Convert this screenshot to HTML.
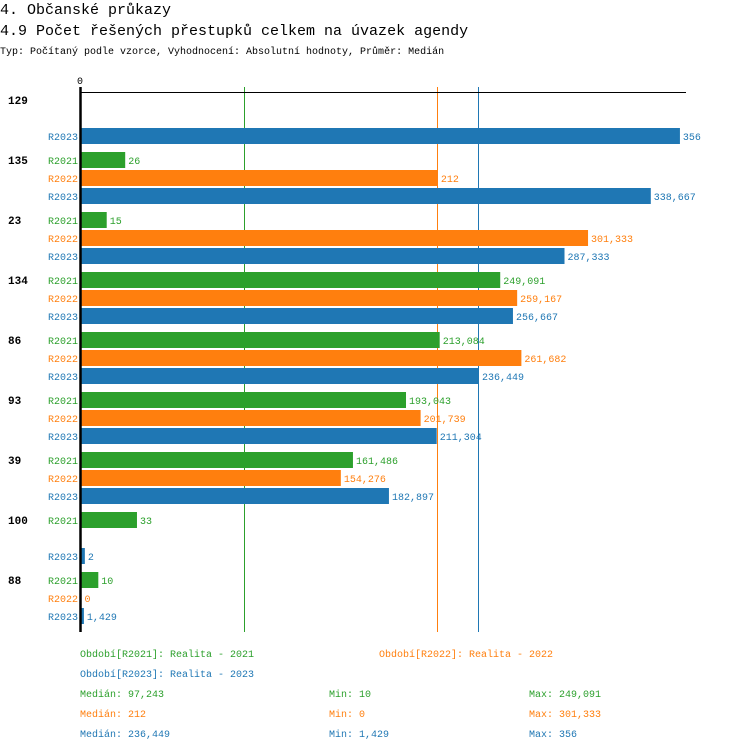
<!DOCTYPE html>
<html><head><meta charset="utf-8">
<style>
body{margin:0;background:#fff;width:750px;height:752px;overflow:hidden;font-family:"Liberation Mono",monospace;}
svg{position:absolute;left:0;top:0}
</style></head><body>
<svg id="c" width="750" height="752" xmlns="http://www.w3.org/2000/svg" font-family="Liberation Mono, monospace">
<text x="0" y="14" font-size="15" fill="#000">4. Občanské průkazy</text>
<text x="0" y="35" font-size="15" fill="#000">4.9 Počet řešených přestupků celkem na úvazek agendy</text>
<text x="0" y="54" font-size="10" fill="#000">Typ: Počítaný podle vzorce, Vyhodnocení: Absolutní hodnoty, Průměr: Medián</text>
<g id="plot"></g>
<g id="legend" font-size="10">
<text x="80" y="657" fill="#2ca02c">Období[R2021]: Realita - 2021</text>
<text x="379" y="657" fill="#ff7f0e">Období[R2022]: Realita - 2022</text>
<text x="80" y="677" fill="#1f77b4">Období[R2023]: Realita - 2023</text>
<text x="80" y="697" fill="#2ca02c">Medián: 97,243</text>
<text x="329" y="697" fill="#2ca02c">Min: 10</text>
<text x="529" y="697" fill="#2ca02c">Max: 249,091</text>
<text x="80" y="717" fill="#ff7f0e">Medián: 212</text>
<text x="329" y="717" fill="#ff7f0e">Min: 0</text>
<text x="529" y="717" fill="#ff7f0e">Max: 301,333</text>
<text x="80" y="737" fill="#1f77b4">Medián: 236,449</text>
<text x="329" y="737" fill="#1f77b4">Min: 1,429</text>
<text x="529" y="737" fill="#1f77b4">Max: 356</text>
</g>
</svg>
<script>
const categories = ["129","135","23","134","86","93","39","100","88"];
const seriesNames = ["R2021","R2022","R2023"];
const r2021 = [null,26,15,249.091,213.084,193.043,161.486,33,10];
const r2022 = [null,212,301.333,259.167,261.682,201.739,154.276,null,0];
const r2023 = [356,338.667,287.333,256.667,236.449,211.304,182.897,2,1.429];
const medians = [97.243,212,236.449];
const colors = ["#2ca02c","#ff7f0e","#1f77b4"];
const series=[r2021,r2022,r2023];
const NS="http://www.w3.org/2000/svg";
const g=document.getElementById('plot');
const x0=81.5, pxPerUnit=1.681;
function xs(v){return x0+v*pxPerUnit;}
function rowY(ci,si){return 100+ci*60+si*18;}
function fmt(v){return String(Math.round(v*1000)/1000).replace('.',',');}
function mk(tag,attrs){const e=document.createElementNS(NS,tag);for(const k in attrs)e.setAttribute(k,attrs[k]);g.appendChild(e);return e;}
medians.forEach((m,i)=>{
  const l=mk('line',{x1:Math.round(xs(m))-0.5,x2:Math.round(xs(m))-0.5,y1:87,y2:632,stroke:colors[i],'stroke-width':1});
  
  
});
const ta=mk('line',{x1:80,x2:686,y1:92.5,y2:92.5,stroke:'#000','stroke-width':1});


const t0=mk('text',{x:77,y:84,'font-size':10,fill:'#000'});t0.textContent='0';


categories.forEach((c,ci)=>{
  const cl=mk('text',{x:8,y:rowY(ci,0)+4,'font-size':11,'font-weight':'bold',fill:'#000'});
  cl.textContent=c;
  
  
  series.forEach((s,si)=>{
    const v=s[ci]; if(v===null)return;
    const y=rowY(ci,si);
    const sl=mk('text',{x:78,y:y+4,'font-size':10,fill:colors[si],'text-anchor':'end'});
    sl.textContent=seriesNames[si];
    
    
    const w=Math.max(xs(v)-x0,0);
    const r=mk('rect',{x:x0,y:y-8,width:w,height:16,fill:colors[si]});
    
    
    const vl=mk('text',{x:xs(v)+3,y:y+4,'font-size':10,fill:colors[si]});
    vl.textContent=fmt(v);
    
    
  });
});
const ya=mk('line',{x1:80.5,x2:80.5,y1:87,y2:632,stroke:'#000','stroke-width':2.5});


</script>
</body></html>
